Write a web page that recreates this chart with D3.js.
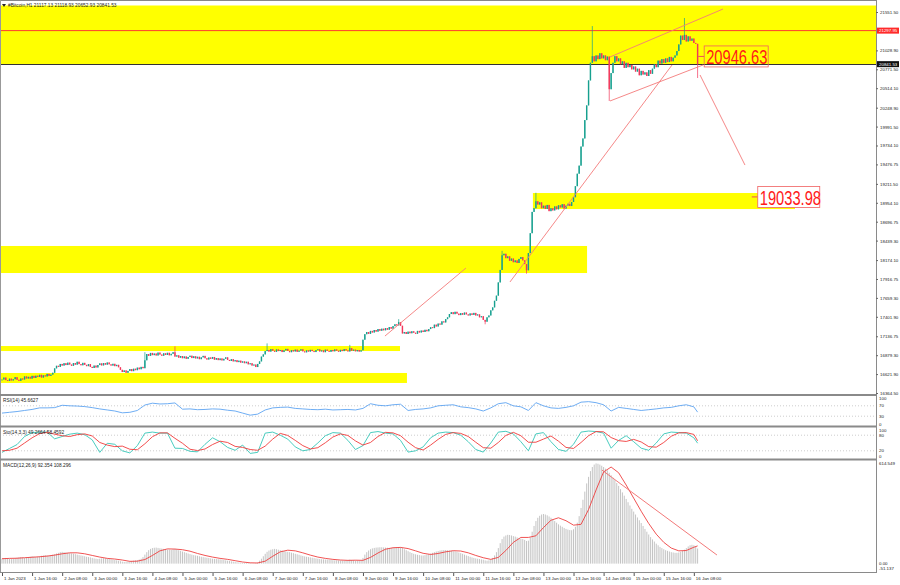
<!DOCTYPE html>
<html><head><meta charset="utf-8">
<script src="https://cdn.jsdelivr.net/npm/d3@7"></script>
<style>
html,body{margin:0;padding:0;background:#fff;}
svg{display:block;font-family:"Liberation Sans",Arial,sans-serif;}
</style></head><body>
<svg id="c" width="900" height="585"></svg>
<script>
// ---------- DATA ----------
const closes = [
16548,16575,16540,16528,16560,16535,16552,16580,16545,16530,16562,16548,16590,16562,16585,16560,16598,16570,16600,16582,16612,16575,16605,16590,16625,16598,16615,16640,
16700,16735,16720,16760,16738,16770,16745,16778,16752,16735,16772,16750,16790,16758,16742,16775,16748,16730,16758,16720,16705,16738,16712,16745,16768,16740,16772,16750,16780,16755,16738,16762,16730,16748,16715,
16680,16650,16672,16640,16665,16690,16662,16695,16675,16710,16688,16720,16702,
16810,16895,16870,16910,16880,16902,16875,16915,16888,16872,16905,16882,16912,16878,16898,16920,
16860,16878,16845,16868,16838,16862,16830,16855,16872,16840,16865,16835,16858,16825,16850,16870,16838,16820,16848,16830,16855,16818,16840,16812,16835,16808,16830,16850,16815,16800,16825,16795,16812,16785,16805,16778,16795,16770,
16790,16755,16770,16738,16752,16718,16760,16795,16860,16890,16935,
16950,16928,16962,16940,16925,16958,16935,16950,16922,16945,16965,16938,16920,16948,16930,16955,16925,16942,16960,16932,16918,16945,16928,16952,16935,16922,16948,16960,16930,16945,16920,16955,16938,16925,16950,16932,16958,16940,16926,16952,16935,16962,16945,16930,
16975,16940,16955,16932,16950,16928,16946,
17090,17165,17195,17170,17210,17188,17222,17200,17235,17212,17240,17218,17248,17226,17262,17240,17275,
17300,17285,17330,17280,
17175,
17195,17168,17200,17178,17205,17185,17170,17210,17188,17215,17195,17225,17205,17235,
17260,17248,17295,17270,17310,17295,17340,17325,17370,17395,
17440,17465,17438,17470,17445,17425,17452,17430,17460,17435,17420,17448,17428,17455,17420,17435,17395,17410,17360,
17335,
17395,17420,17490,17530,17620,17690,17870,18040,
18240,
18260,18200,18225,18165,18195,18145,18170,18135,18190,18215,18170,18120,
18035,
18270,18540,18830,18880,18975,
18930,18960,18880,18915,18870,18925,18840,18880,18850,18905,18865,18920,18890,18935,18875,18915,18940,18910,18965,19030,
19180,19350,19460,19720,19830,20080,20280,20620,20860,
20950,20880,20960,20910,20990,20920,20960,20895,20945,
20500,
20720,20860,20950,20880,20920,
20840,20880,20790,20860,20800,20830,20770,20810,
20740,20780,20690,20750,20700,20730,20680,20760,20710,20780,
20840,20800,20890,20850,20910,20860,
20920,20870,20940,20880,20930,20960,21020,21110,
21230,21170,21240,21150,21220,21160,21190,21130,
21117.13,
20841.53
];
// [bar index, high, low] for visible wicks
const spikes = [
[76,16920,null],[92,17000,null],[141,17040,null],[185,17020,null],[211,17370,null],
[257,null,17300],[266,18300,null],[279,null,17990],[284,19090,null],
[314,21360,null],[323,null,20340],[363,21470,null],[370,21118.93,20652.93]
];
const priceTicks = [16364.50,16621.90,16879.30,17136.75,17401.90,17659.30,17916.75,18174.10,18439.30,18696.75,18954.10,19211.50,19476.75,19734.10,19991.50,20248.90,20514.10,20771.50,21028.90,21551.50];
const timeLabels = ["1 Jan 2023","1 Jan 16:00","2 Jan 08:00","3 Jan 00:00","3 Jan 16:00","4 Jan 08:00","5 Jan 00:00","5 Jan 16:00","6 Jan 08:00","7 Jan 00:00","7 Jan 16:00","8 Jan 08:00","9 Jan 00:00","9 Jan 16:00","10 Jan 08:00","11 Jan 00:00","11 Jan 16:00","12 Jan 08:00","13 Jan 00:00","13 Jan 16:00","14 Jan 08:00","15 Jan 00:00","15 Jan 16:00","16 Jan 08:00"];
const labelStepBars = 16;

// indicators (RSI, Stochastic, MACD signal sampled every 4 bars)
const rsi = [42,45,48,52,56,62,62,63,72,70,69,67,63,58,54,50,43,45,52,73,80,77,78,81,57,58,55,56,58,57,53,50,42,34,38,54,62,64,65,60,58,
56,55,57,54,55,56,54,60,78,72,70,74,76,52,56,58,62,70,72,74,66,63,58,50,62,78,82,70,66,52,82,70,62,60,64,70,84,86,82,74,50,64,60,56,52,55,58,62,64,70,74,66,45.6627];
const stochK = [14,29,44,75,90,92,92,66,75,84,88,82,62,14,49,45,20,12,40,88,92,88,88,30,29,18,16,45,70,55,33,22,42,10,14,88,92,80,65,35,20,
25,50,78,90,88,60,25,40,90,94,88,85,60,15,20,35,70,88,92,90,80,55,25,15,50,92,95,85,55,20,85,90,55,25,18,45,92,96,94,88,30,60,78,55,30,22,50,85,92,90,88,70,49.2664];
const stochD = [20,22,30,50,70,86,91,84,78,75,82,85,77,52,42,36,38,26,24,47,74,89,89,68,49,26,21,27,44,57,52,37,33,25,22,38,65,87,79,60,40,
27,32,51,73,85,79,58,42,52,75,91,89,78,53,32,23,42,64,83,90,87,75,53,32,30,52,79,91,78,53,53,65,77,57,33,29,52,78,94,93,71,59,56,64,54,36,34,52,76,89,90,83,58.4592];
const macdHist = [
30,32,35,33,30,28,30,33,36,38, 40,38,35,37,40,42,45,43,40,42, 45,48,50,52,50,48,52,55,58,62, 66,70,72,70,68,66,64,62,60,58,
55,52,50,48,45,42,40,38,35,32, 30,28,30,32,33,32,30,28,26,24, 22,20,18,15,12,10,10,12,14,16, 18,20,22,25,30,40,55,70,82,90,
95,97,98,96,94,92,90,88,86,85, 84,88,90,86,82,78,74,70,66,62, 58,55,52,50,48,45,42,40,38,36, 34,32,30,29,28,27,26,24,22,20,
18,16,14,12,10,8,7,6,5,4, 4,3,3,2,2,3,8,18,30,45, 60,72,80,85,88,90,88,85,82,80, 77,74,72,70,67,64,60,57,54,50,
47,44,42,40,38,36,34,32,30,28, 27,26,25,24,23,22,21,20,20,19, 19,18,18,20,22,24,22,20,19,18, 18,20,35,55,70,80,88,93,96,98,
99,100,100,99,98,97,96,96,97,98, 100,101,100,95,88,82,76,70,65,60, 57,54,52,50,50,52,55,58,62,66, 70,74,77,80,82,83,83,82,80,78,
76,74,72,68,64,60,55,50,46,42, 38,35,32,30,28,26,24,20,18,20, 25,35,50,70,95,125,150,165,172,176, 175,172,168,165,160,155,152,150,145,138,
140,160,195,230,260,280,292,300,303,300, 295,288,280,270,260,250,240,232,225,218, 212,208,205,204,210,225,250,290,340,390, 440,490,530,565,590,605,612,610,605,598,
590,580,570,555,540,525,510,492,475,455, 435,415,395,375,355,335,318,300,282,265, 248,230,212,195,178,162,148,135,122,112, 102,95,88,82,78,74,70,68,66,66,
68,72,78,85,95,105,112,115,112,105, 92.354
];
const macdSignal = [30,32,33,36,39,42,46,52,60,66,66,60,50,40,32,28,22,14,15,25,50,78,90,89,85,76,62,50,40,32,26,18,10,5,4,15,45,72,82,78,66,52,40,32,26,22,20,21,20,38,65,88,97,99,92,78,63,56,62,72,79,77,66,50,36,26,38,80,130,160,160,170,220,265,280,262,235,240,330,450,560,590,555,480,400,320,245,180,130,95,78,80,100,108.296];
const indicatorStep = 4;

// drawn objects in price/time units
const zones = [ // [fromBar, toBar, lowPrice, highPrice]
[-3,466,20841.53,21640],
[282.4,421.8,18869,19087],
[-3,311.2,17998,18366],
[-3,211.7,16936,17004],
[-3,215.4,16501,16637]
];
const trendLines = [ // [bar0, price0, bar1, price1]
[323.4,20939,383.5,21592],
[323.4,20340,372.9,20830],
[270.2,17876,356.4,20830],
[203.7,17140,246.8,18066],
[371.3,20694,395.2,19468]
];
const macdTrend = [319.1,571.6,380.3,52.5];
const targets = [{text:"20946.63",bar:373.5,price:20946.63,w:64},{text:"19033.98",bar:402,price:19033.98,w:62,fill:"#fff"}];
const redLevel = 21297.95, bidLevel = 20841.53;
const header = "#Bitcoin,H1  21117.13 21118.93 20652.93 20841.53";

// ---------- LAYOUT ----------
const svg = d3.select("#c");
const axisX = 876;
const P = {main:[1,394], rsi:[396,425], sto:[428,458], macd:[461,572]};
const x = d3.scaleLinear().domain([0,370]).range([2,2+370*1.88]);
const y = d3.scaleLinear().domain([16364.5,21551.5]).range([393,12]);
const yR = d3.scaleLinear().domain([0,100]).range([424,398]);
const yS = d3.scaleLinear().domain([0,100]).range([456,430]);
const yM = d3.scaleLinear().domain([-51.137,614.549]).range([572,463]);

const defs = svg.append("defs");
Object.entries(P).forEach(([k,[t,b]])=>{
  defs.append("clipPath").attr("id","clip-"+k).append("rect").attr("x",0).attr("y",t).attr("width",axisX).attr("height",b-t);
});
svg.append("rect").attr("width",900).attr("height",585).attr("fill","#fff");

// ---------- MAIN PANEL ----------
const gm = svg.append("g").attr("clip-path","url(#clip-main)");
gm.selectAll("rect.zone").data(zones).join("rect").attr("class","zone")
  .attr("x",d=>x(d[0])).attr("width",d=>x(d[1])-x(d[0]))
  .attr("y",d=>y(d[3])).attr("height",d=>y(d[2])-y(d[3])).attr("fill","#ffff00");
gm.append("line").attr("x1",0).attr("x2",axisX).attr("y1",y(redLevel)).attr("y2",y(redLevel)).attr("stroke","#ff3b30").attr("stroke-width",1);
gm.append("line").attr("x1",0).attr("x2",axisX).attr("y1",Math.round(y(bidLevel))+0.5).attr("y2",Math.round(y(bidLevel))+0.5).attr("stroke","#333").attr("stroke-width",1);

const spikeMap = new Map(spikes.map(d=>[d[0],d]));
const candles = closes.map((c,i)=>{
  const o = i ? closes[i-1] : c;
  let h = Math.max(o,c), l = Math.min(o,c);
  const s = spikeMap.get(i);
  if(s){ if(s[1]!=null) h=Math.max(h,s[1]); if(s[2]!=null) l=Math.min(l,s[2]); }
  return {i,o,c,h,l,up:c>=o};
});
const bull="#17a08f", bear="#f2365a";
gm.selectAll("line.wick").data(candles).join("line").attr("class","wick")
  .attr("x1",d=>x(d.i)).attr("x2",d=>x(d.i)).attr("y1",d=>y(d.h)).attr("y2",d=>y(d.l))
  .attr("stroke",d=>d.up?bull:bear).attr("stroke-width",0.7);
gm.selectAll("rect.body").data(candles).join("rect").attr("class","body")
  .attr("x",d=>x(d.i)-0.7).attr("width",1.4)
  .attr("y",d=>y(Math.max(d.o,d.c))).attr("height",d=>Math.max(0.9,Math.abs(y(d.o)-y(d.c))))
  .attr("fill",d=>d.up?bull:bear);

svg.append("g").selectAll("line").data(trendLines).join("line")
  .attr("x1",d=>x(d[0])).attr("y1",d=>y(d[1])).attr("x2",d=>x(d[2])).attr("y2",d=>y(d[3]))
  .attr("stroke","#f47a7a").attr("stroke-width",0.9);

targets.forEach(t=>{
  const bx=x(t.bar), cy=y(t.price);
  svg.append("line").attr("x1",bx-6).attr("x2",bx).attr("y1",cy).attr("y2",cy).attr("stroke","#f05050").attr("stroke-width",1);
  svg.append("rect").attr("x",bx).attr("y",cy-10.5).attr("width",t.w).attr("height",21)
    .attr("fill",t.fill||"none").attr("stroke","#f06060").attr("stroke-width",0.8);
  svg.append("text").attr("transform",`translate(${bx+2},${cy+7.6}) scale(0.7,1)`)
    .attr("font-size",21).attr("fill","#ff1a1a").text(t.text);
});

// ---------- RSI ----------
const gr = svg.append("g").attr("clip-path","url(#clip-rsi)");
[70,30].forEach(v=>gr.append("line").attr("x1",0).attr("x2",axisX).attr("y1",yR(v)).attr("y2",yR(v)).attr("stroke","#b8b8b8").attr("stroke-dasharray","1,2").attr("stroke-width",0.7));
const bx4 = j=>x(Math.min(j*indicatorStep,370));
gr.append("path").datum(rsi).attr("fill","none").attr("stroke","#5ea4f2").attr("stroke-width",0.9)
  .attr("d",d3.line().x((d,j)=>bx4(j)).y(d=>yR(d)));

// ---------- STOCH ----------
const gs = svg.append("g").attr("clip-path","url(#clip-sto)");
[80,20].forEach(v=>gs.append("line").attr("x1",0).attr("x2",axisX).attr("y1",yS(v)).attr("y2",yS(v)).attr("stroke","#b8b8b8").attr("stroke-dasharray","1,2").attr("stroke-width",0.7));
gs.append("path").datum(stochK).attr("fill","none").attr("stroke","#36c6b8").attr("stroke-width",0.9)
  .attr("d",d3.line().x((d,j)=>bx4(j)).y(d=>yS(d)));
gs.append("path").datum(stochD).attr("fill","none").attr("stroke","#f03a3a").attr("stroke-width",0.9)
  .attr("d",d3.line().x((d,j)=>bx4(j)).y(d=>yS(d)));

// ---------- MACD ----------
const gc = svg.append("g").attr("clip-path","url(#clip-macd)");
gc.selectAll("rect").data(macdHist).join("rect")
  .attr("x",(d,i)=>x(i)-0.5).attr("width",1)
  .attr("y",d=>Math.min(yM(d),yM(0))).attr("height",d=>Math.abs(yM(0)-yM(d)))
  .attr("fill","#c4c4c4");
gc.append("path").datum(macdSignal).attr("fill","none").attr("stroke","#ee4040").attr("stroke-width",0.9)
  .attr("d",d3.line().x((d,j)=>bx4(j)).y(d=>yM(d)));
svg.append("line").attr("x1",x(macdTrend[0])).attr("y1",yM(macdTrend[1])).attr("x2",x(macdTrend[2])).attr("y2",yM(macdTrend[3]))
  .attr("stroke","#f06a6a").attr("stroke-width",0.9);

// ---------- FRAMES ----------
const frame = svg.append("g");
frame.append("line").attr("x1",0).attr("x2",axisX).attr("y1",0.5).attr("y2",0.5).attr("stroke","#888");
frame.append("line").attr("x1",0.5).attr("x2",0.5).attr("y1",0).attr("y2",573).attr("stroke","#999");
[395,426.5,459.5].forEach(v=>frame.append("line").attr("x1",0).attr("x2",axisX).attr("y1",v).attr("y2",v).attr("stroke","#8a8a8a").attr("stroke-width",2.2));
frame.append("line").attr("x1",0).attr("x2",axisX+0.5).attr("y1",572.5).attr("y2",572.5).attr("stroke","#8a8a8a").attr("stroke-width",1.2);
frame.append("line").attr("x1",axisX+0.5).attr("x2",axisX+0.5).attr("y1",0).attr("y2",573).attr("stroke","#8a8a8a").attr("stroke-width",1);

// ---------- AXES ----------
const fs = 4.4;
const ay = svg.append("g").attr("transform",`translate(${axisX},0)`)
  .call(d3.axisRight(y).tickValues(priceTicks).tickSize(2).tickFormat(d3.format(".2f")));
ay.select(".domain").remove();
ay.selectAll("line").attr("stroke","#666");
ay.selectAll("text").attr("font-size",fs).attr("fill","#222").attr("x",4).attr("font-family","Liberation Sans, Arial");

function priceTag(v,bg){
  const cy=y(v);
  svg.append("rect").attr("x",axisX+1).attr("y",cy-3).attr("width",22).attr("height",6).attr("fill",bg);
  svg.append("text").attr("x",axisX+3).attr("y",cy+1.6).attr("font-size",fs).attr("fill","#fff").text(d3.format(".2f")(v));
}
priceTag(redLevel,"#ff2a2a");
priceTag(bidLevel,"#111");

function sideLabels(scale,vals,fmt){
  vals.forEach(v=>svg.append("text").attr("x",axisX+3).attr("y",scale(v)+1.6).attr("font-size",fs).attr("fill","#222").text(fmt?fmt(v):v));
}
sideLabels(yR,[100,70,30,0]);
sideLabels(yS,[100,80,20,0]);
svg.append("text").attr("x",axisX+3).attr("y",yM(614.549)+1.6).attr("font-size",fs).attr("fill","#222").text("614.549");
svg.append("text").attr("x",axisX+3).attr("y",yM(0)+1.2).attr("font-size",fs).attr("fill","#222").text("0.00");
svg.append("text").attr("x",axisX+3).attr("y",yM(-51.137)-2.2).attr("font-size",fs).attr("fill","#222").text("-51.137");

const labelIdx = timeLabels.map((d,k)=>k*labelStepBars);
const ax = svg.append("g").attr("transform","translate(0,573)")
  .call(d3.axisBottom(x).tickValues(labelIdx).tickSize(3).tickFormat((d,k)=>timeLabels[k]));
ax.select(".domain").remove();
ax.selectAll("line").attr("stroke","#555");
ax.selectAll("text").attr("font-size",fs).attr("fill","#222").attr("text-anchor","start").attr("x",1.5).attr("y",3.5).attr("dy","0.71em").attr("font-family","Liberation Sans, Arial");

// ---------- TITLES ----------
svg.append("path").attr("d","M2,4 L6,4 L4,7 Z").attr("fill","#222");
svg.append("text").attr("x",8).attr("y",7).attr("font-size",4.8).attr("fill","#222").text(header);
svg.append("text").attr("x",3).attr("y",P.rsi[0]+6).attr("font-size",4.8).attr("fill","#222").text("RSI(14) 45.6627");
svg.append("text").attr("x",3).attr("y",P.sto[0]+6).attr("font-size",4.8).attr("fill","#222").text("Sto(14,3,3) 49.2664 58.4592");
svg.append("text").attr("x",3).attr("y",P.macd[0]+6).attr("font-size",4.8).attr("fill","#222").text("MACD(12,26,9) 92.354 108.296");
</script>
</body></html>
